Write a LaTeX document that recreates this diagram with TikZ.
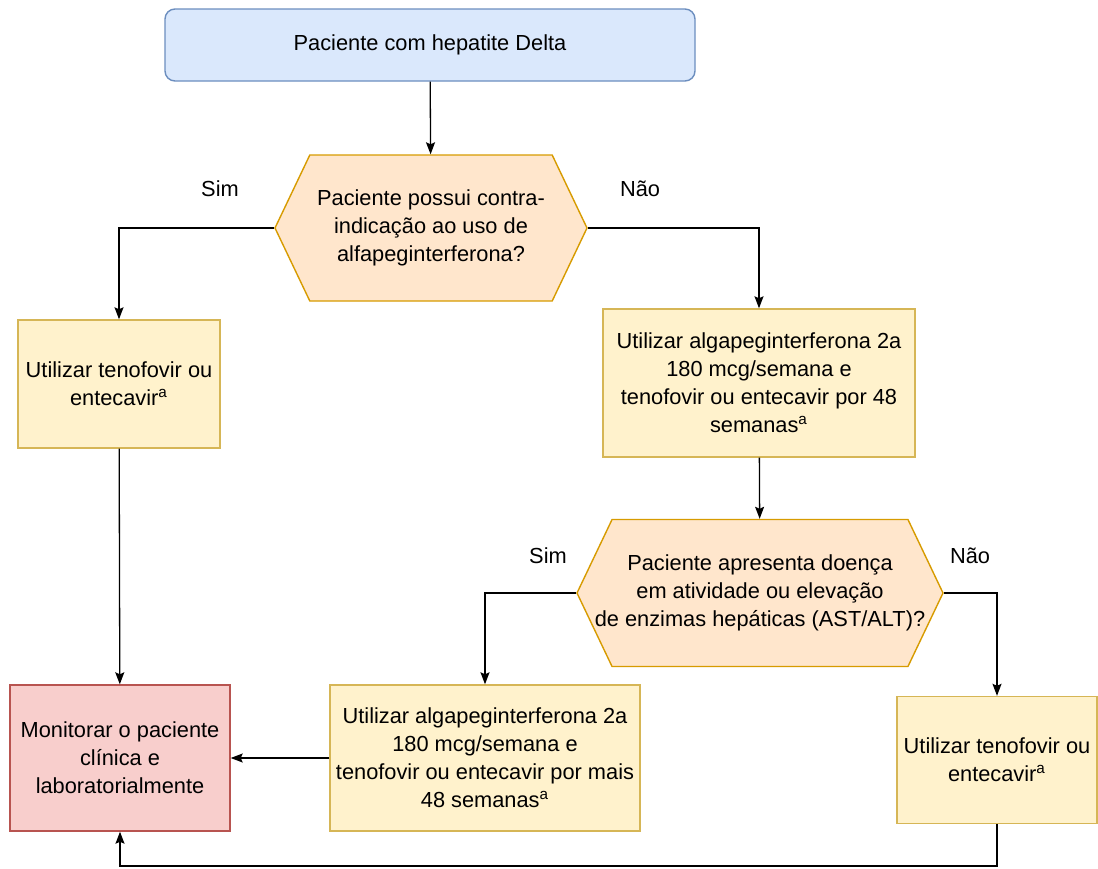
\documentclass[tikz,border=0pt]{standalone}
\usepackage{fontspec}
\setmainfont{Liberation Sans}
\usetikzlibrary{shapes.symbols, arrows.meta}
\definecolor{azulfundo}{HTML}{DAE8FC}
\definecolor{azulborda}{HTML}{6C8EBF}
\definecolor{laranjafundo}{HTML}{FFE6CC}
\definecolor{laranjaborda}{HTML}{D79B00}
\definecolor{amarelofundo}{HTML}{FFF2CC}
\definecolor{amareloborda}{HTML}{D6B656}
\definecolor{vermelhofundo}{HTML}{F8CECC}
\definecolor{vermelhoborda}{HTML}{B85450}
\newcommand{\linhas}[2]{\makebox[#1]{\begin{tabular}{@{}c@{}}#2\end{tabular}}}

\begin{document}
\begin{tikzpicture}
	[x=0.5pt, y=-0.5pt,
	font=\fontsize{10.9}{14}\selectfont,
	caixa/.style={rectangle, draw=amareloborda, fill=amarelofundo, line width=0.7pt, align=center, inner sep=2pt},
	inicio/.style={rectangle, rounded corners=5pt, draw=azulborda, fill=azulfundo, line width=0.7pt, minimum width=265pt, minimum height=36pt},
	decisao/.style={signal, signal to=west and east, signal pointer angle=129, draw=laranjaborda, fill=laranjafundo, line width=0.7pt, align=center, inner sep=1pt},
	fim/.style={rectangle, draw=vermelhoborda, fill=vermelhofundo, line width=0.7pt, align=center, minimum width=110pt, minimum height=73pt},
	seta/.style={-{Stealth[length=6pt, width=4.5pt, inset=1pt]}, line width=0.65pt}]
	\useasboundingbox (0,0) rectangle (1098,868);

	\node (paciente) at (430,45) [inicio] {Paciente com hepatite Delta};
	\node (contra) at (431,228) [decisao, minimum width=156pt, minimum height=73pt]
		{Paciente possui contra-\\indicação ao uso de\\alfapeginterferona?};
	\node (tenof1) at (119,384) [caixa, minimum width=101pt, minimum height=64pt]
		{Utilizar tenofovir ou\\entecavir\textsuperscript{a}};
	\node (alfa1) at (759,383) [caixa, minimum width=156pt, minimum height=74pt]
		{Utilizar algapeginterferona 2a\\180 mcg/semana e\\tenofovir ou entecavir por 48\\semanas\textsuperscript{a}};
	\node (doenca) at (760,593) [decisao, minimum width=183pt, minimum height=73.5pt]
		{\linhas{120pt}{Paciente apresenta doença\\em atividade ou elevação\\de enzimas hepáticas (AST/ALT)?}};
	\node (alfa2) at (485,758) [caixa, minimum width=155pt, minimum height=73pt]
		{Utilizar algapeginterferona 2a\\180 mcg/semana e\\tenofovir ou entecavir por mais\\48 semanas\textsuperscript{a}};
	\node (tenof2) at (997,760) [caixa, minimum width=100pt, minimum height=63.5pt]
		{Utilizar tenofovir ou\\entecavir\textsuperscript{a}};
	\node (monitor) at (120,758) [fim]
		{Monitorar o paciente\\clínica e\\laboratorialmente};

	\node (sim1) at (220,189) {Sim};
	\node (nao1) at (640,189) {Não};
	\node (sim2) at (548,556) {Sim};
	\node (nao2) at (970,556) {Não};

	\draw [seta] (paciente) -- (contra);
	\draw [seta] (contra.west) -| (tenof1.north);
	\draw [seta] (contra.east) -| (alfa1.north);
	\draw [seta] (alfa1) -- (doenca);
	\draw [seta] (doenca.west) -| (alfa2.north);
	\draw [seta] (doenca.east) -| (tenof2.north);
	\draw [seta] (tenof1) -- (monitor);
	\draw [seta] (alfa2) -- (monitor);
	\coordinate (volta) at (997,866);
	\draw [seta] (tenof2.south) -- (volta) -| (monitor.south);
\end{tikzpicture}
\end{document}
